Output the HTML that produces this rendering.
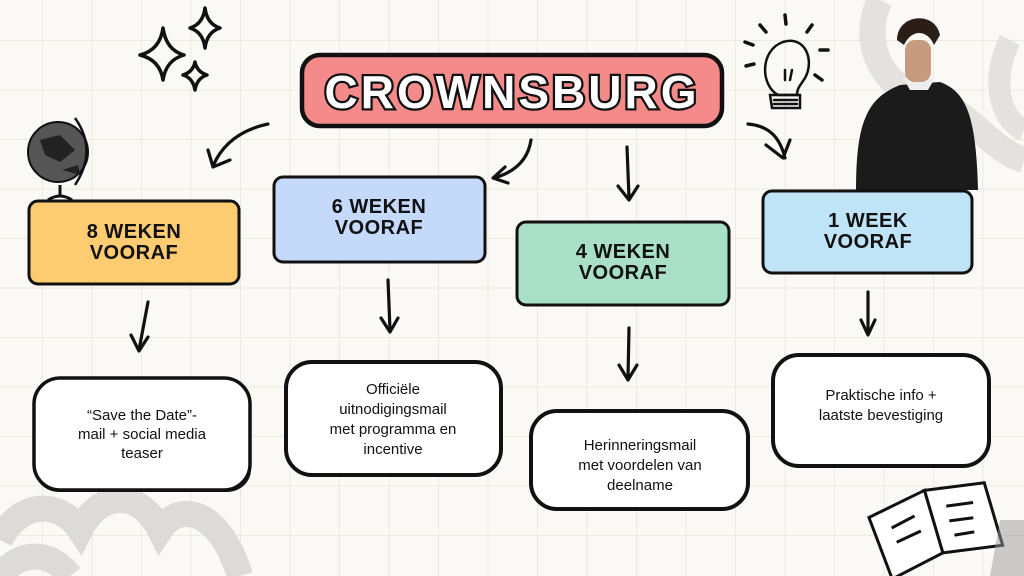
<!DOCTYPE html>
<html><head><meta charset="utf-8"><style>
html,body{margin:0;padding:0;background:#fbf9f5;}
svg{display:block}
.h{font-family:"Liberation Sans",sans-serif;font-weight:900;font-size:20px;fill:#111;text-anchor:middle;letter-spacing:0.5px}
.b{font-family:"Liberation Sans Narrow","Liberation Sans",sans-serif;font-size:15px;fill:#111;text-anchor:middle}
.ar{fill:none;stroke:#111;stroke-width:3.2;stroke-linecap:round;stroke-linejoin:round}
</style></head><body>
<svg width="1024" height="576" viewBox="0 0 1024 576" xmlns="http://www.w3.org/2000/svg">
<defs>
<pattern id="g" x="42" y="40" width="49.5" height="49.5" patternUnits="userSpaceOnUse">
<path d="M0 0V49.5M0 0H49.5" stroke="#ece9e3" stroke-width="2" fill="none"/>
</pattern>
</defs>
<rect width="1024" height="576" fill="#fbf9f5"/>
<rect width="1024" height="576" fill="url(#g)"/>
<!-- gray decorative shapes -->
<path d="M880 0 C860 40 880 90 930 100 C970 110 990 150 1024 160" fill="none" stroke="#e4e2de" stroke-width="26"/>
<path d="M1010 40 C990 80 1000 120 1024 130" fill="none" stroke="#e4e2de" stroke-width="22"/>
<path d="M0 540 C20 500 60 500 80 530 C100 490 140 490 160 530 C180 500 220 510 240 576" fill="none" stroke="#dddbd7" stroke-width="26"/>
<path d="M0 576 C20 550 50 550 70 576" fill="none" stroke="#dddbd7" stroke-width="26"/>
<!-- sparkles -->
<g fill="none" stroke="#111" stroke-width="3.5" stroke-linejoin="round">
<path d="M163 28 Q166 50 184 55 Q166 60 163 80 Q160 60 140 55 Q160 50 163 28Z"/>
<path d="M205 8 Q207 24 220 28 Q207 32 205 48 Q203 32 190 28 Q203 24 205 8Z"/>
<path d="M195 62 Q197 72 207 75 Q197 78 195 90 Q193 78 183 75 Q193 72 195 62Z"/>
</g>
<!-- globe -->
<circle cx="58" cy="152" r="30" fill="#555" stroke="#111" stroke-width="2"/>
<path d="M40 140 L60 135 L75 150 L60 162 L45 155Z M62 170 L78 165 L80 175Z" fill="#222"/>
<path d="M75 118 Q98 150 75 185" fill="none" stroke="#111" stroke-width="2.5"/>
<path d="M60 185 L60 195 M48 200 Q60 192 72 200" stroke="#111" stroke-width="3" fill="none"/>
<!-- lightbulb -->
<g fill="none" stroke="#111" stroke-width="2.5" stroke-linecap="round">
<path d="M778 95 C760 85 760 50 783 42 C805 35 815 60 805 78 C800 86 797 88 797 95 Z"/>
<path d="M770 95 L800 95 L800 108 L772 108Z M774 100 L797 100 M774 104 L797 104"/>
<path d="M785 80 L785 70 M790 80 L792 70"/>
</g>
<g stroke="#111" stroke-width="3.5" stroke-linecap="round">
<path d="M785 15 L786 24"/><path d="M760 25 L766 32"/><path d="M745 42 L753 45"/><path d="M746 66 L754 64"/><path d="M812 25 L807 32"/><path d="M820 50 L828 50"/><path d="M815 75 L822 80"/>
</g>
<!-- person -->
<path d="M856 190 C856 120 868 98 900 85 L940 82 C968 92 976 120 978 190 Z" fill="#1b1b1b"/>
<path d="M903 78 L935 78 L928 90 L910 90Z" fill="#eee"/>
<rect x="905" y="40" width="26" height="42" rx="10" fill="#c59a7e"/>
<path d="M897 40 C897 14 935 10 940 35 L934 45 C928 30 912 28 904 45Z" fill="#2b1e16"/>
<!-- book -->
<g transform="translate(855 500) rotate(-12)" stroke="#111" stroke-width="3" fill="#fff">
<path d="M10 20 L70 5 L75 70 L20 85Z"/><path d="M70 5 L130 10 L135 75 L75 70Z"/>
<path d="M30 35 L55 28 M32 50 L58 44 M88 25 L115 27 M88 40 L112 42 M90 55 L110 56" fill="none"/>
</g>
<path d="M1000 520 L1024 520 L1024 576 L990 576Z" fill="#999" opacity="0.5"/>
<!-- title -->
<rect x="302" y="55" width="420" height="71" rx="18" fill="#f48a8a" stroke="#111" stroke-width="4.5"/>
<text x="512" y="108" text-anchor="middle" font-family="Liberation Sans,sans-serif" font-weight="900" font-size="46" fill="#fff" stroke="#111" stroke-width="4.5" paint-order="stroke" letter-spacing="3">CROWNSBURG</text>
<!-- arrows from title -->
<path class="ar" d="M268 124 C240 130 222 145 213 166"/><path class="ar" d="M208 150 L213 167 L230 160"/>
<path class="ar" d="M531 140 C528 160 515 172 494 178"/><path class="ar" d="M505 167 L493 178 L508 183"/>
<path class="ar" d="M627 147 L629 198"/><path class="ar" d="M618 186 L629 200 L638 186"/>
<path class="ar" d="M748 124 C770 126 780 138 785 158"/><path class="ar" d="M766 145 L783 158 L790 140"/>
<!-- phase boxes -->
<rect x="29" y="201" width="210" height="83" rx="9" fill="#fdcb70" stroke="#111" stroke-width="3"/>
<text class="h" x="134" y="238">8 WEKEN</text><text class="h" x="134" y="259">VOORAF</text>
<rect x="274" y="177" width="211" height="85" rx="9" fill="#c5d9fb" stroke="#111" stroke-width="3"/>
<text class="h" x="379" y="213">6 WEKEN</text><text class="h" x="379" y="234">VOORAF</text>
<rect x="517" y="222" width="212" height="83" rx="9" fill="#a8dfc6" stroke="#111" stroke-width="3"/>
<text class="h" x="623" y="258">4 WEKEN</text><text class="h" x="623" y="279">VOORAF</text>
<rect x="763" y="191" width="209" height="82" rx="9" fill="#bfe4f8" stroke="#111" stroke-width="3"/>
<text class="h" x="868" y="227">1 WEEK</text><text class="h" x="868" y="248">VOORAF</text>
<!-- arrows down -->
<path class="ar" d="M148 302 L139 350"/><path class="ar" d="M131 335 L139 351 L148 337"/>
<path class="ar" d="M388 280 L390 330"/><path class="ar" d="M381 318 L390 332 L398 318"/>
<path class="ar" d="M629 328 L628 378"/><path class="ar" d="M619 365 L628 380 L637 365"/>
<path class="ar" d="M868 292 L868 333"/><path class="ar" d="M861 320 L868 335 L875 320"/>
<!-- text boxes -->
<rect x="35" y="447" width="216" height="45" rx="24" fill="#111"/>
<rect x="34" y="378" width="216" height="112" rx="26" fill="#fff" stroke="#111" stroke-width="3.5"/>
<text class="b" x="142" y="420">“Save the Date”-</text><text class="b" x="142" y="439">mail + social media</text><text class="b" x="142" y="458">teaser</text>
<rect x="286" y="362" width="215" height="113" rx="26" fill="#fff" stroke="#111" stroke-width="4"/>
<text class="b" x="393" y="394">Officiële</text><text class="b" x="393" y="414">uitnodigingsmail</text><text class="b" x="393" y="434">met programma en</text><text class="b" x="393" y="454">incentive</text>
<rect x="531" y="411" width="217" height="98" rx="26" fill="#fff" stroke="#111" stroke-width="4"/>
<text class="b" x="640" y="450">Herinneringsmail</text><text class="b" x="640" y="470">met voordelen van</text><text class="b" x="640" y="490">deelname</text>
<rect x="773" y="355" width="216" height="111" rx="26" fill="#fff" stroke="#111" stroke-width="4"/>
<text class="b" x="881" y="400">Praktische info +</text><text class="b" x="881" y="420">laatste bevestiging</text>
</svg>
</body></html>
